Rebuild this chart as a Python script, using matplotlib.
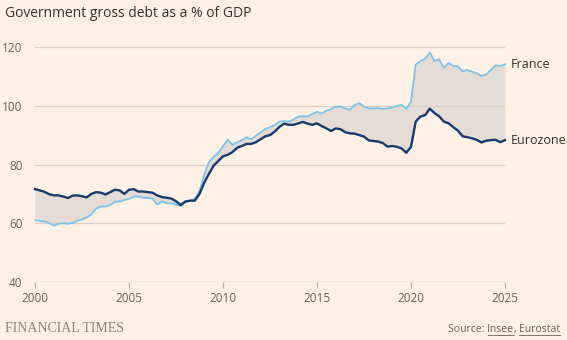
import matplotlib
matplotlib.use('Agg')
import matplotlib.pyplot as plt
from matplotlib.lines import Line2D
import numpy as np

# quarterly government gross debt, % of GDP, 2000Q1 - 2025Q1
start_year = 2000
france = [61.0, 60.8, 60.6, 60.1, 59.2, 59.8, 60.0, 59.8,
          60.1, 60.9, 61.2, 62.0, 63.0, 65.0, 65.7, 65.7,
          66.2, 67.3, 67.4, 67.9, 68.3, 69.0, 69.1, 68.6,
          68.6, 68.4, 66.4, 67.4, 66.8, 66.8, 66.3, 65.9,
          67.3, 67.7, 68.2, 71.0, 76.5, 80.8, 82.5, 84.0,
          86.2, 88.4, 86.7, 87.5, 88.3, 89.3, 88.6, 89.8,
          90.9, 92.1, 92.7, 93.4, 94.6, 94.8, 94.6, 95.3,
          96.3, 96.5, 96.3, 97.2, 97.9, 97.4, 98.3, 98.8,
          99.7, 99.7, 99.1, 98.6, 100.3, 100.9, 99.7, 99.1,
          99.1, 99.2, 98.9, 99.1, 99.4, 99.9, 100.3, 98.9,
          101.4, 114.0, 115.2, 116.0, 118.1, 115.2, 115.8, 112.9,
          114.6, 113.5, 113.4, 111.7, 112.2, 111.6, 111.1, 110.1,
          110.7, 112.2, 113.8, 113.5, 114.1]
eurozone = [71.6, 71.2, 70.7, 69.9, 69.5, 69.5, 69.1, 68.6,
            69.4, 69.5, 69.2, 68.8, 70.0, 70.6, 70.4, 69.8,
            70.6, 71.4, 71.2, 70.0, 71.4, 71.6, 70.8, 70.8,
            70.6, 70.4, 69.5, 68.9, 68.7, 68.4, 67.5, 66.2,
            67.4, 67.7, 67.7, 70.0, 73.8, 76.8, 79.6, 81.2,
            82.8, 83.3, 84.2, 85.7, 86.3, 87.0, 87.0, 87.6,
            88.6, 89.6, 90.0, 91.2, 92.8, 93.9, 93.5, 93.5,
            94.0, 94.5, 93.9, 93.5, 94.0, 93.1, 92.3, 91.4,
            92.3, 92.0, 91.0, 90.6, 90.5, 90.0, 89.5, 88.2,
            88.0, 87.8, 87.3, 86.1, 86.3, 86.0, 85.5, 84.0,
            86.0, 94.6, 96.3, 96.8, 99.0, 97.5, 96.4, 94.6,
            94.0, 92.7, 91.5, 89.6, 89.3, 88.9, 88.4, 87.5,
            88.1, 88.3, 88.4, 87.6, 88.3]
yticks = [40, 60, 80, 100, 120]
xticks = [2000, 2005, 2010, 2015, 2020, 2025]

t = start_year + np.arange(len(france)) / 4

bg = '#fff1e5'
text_col = '#33302e'
muted = '#66605c'

plt.rcParams['font.family'] = ['Open Sans', 'DejaVu Sans']

fig = plt.figure(figsize=(5.67, 3.40), dpi=100, facecolor=bg)
ax = fig.add_axes([35 / 567, 1 - 282 / 340, 470 / 567, 235 / 340])
ax.set_facecolor(bg)

ax.fill_between(t, eurozone, france, color='#e5dcd5', lw=0, zorder=2)
ax.plot(t, france, color='#7ac3ea', lw=1.3, zorder=3, clip_on=False,
        solid_joinstyle='round')
ax.plot(t, eurozone, color='#143a70', lw=1.7, zorder=4, clip_on=False,
        solid_joinstyle='round')

ax.set_xlim(2000, 2025)
ax.set_ylim(40, 120)

# gridlines sit over the shaded gap, under the lines
for v in yticks[1:]:
    ax.axhline(v, color='#dccfc4', lw=0.9, zorder=2.5)
ax.axhline(40, color='#b8aea6', lw=0.9, zorder=2.5)

for s in ax.spines.values():
    s.set_visible(False)

ax.set_yticks(yticks)
ax.set_xticks(xticks)
ax.tick_params(axis='y', length=0, pad=9, labelsize=8.5, labelcolor=muted)
ax.tick_params(axis='x', length=4, width=0.9, color='#b8aea6', pad=3,
               labelsize=8.5, labelcolor=muted)

# series labels at the line ends
ax.text(t[-1] + 0.3, france[-1], 'France', fontsize=9, color=text_col,
        va='center', ha='left')
ax.text(t[-1] + 0.3, eurozone[-1], 'Eurozone', fontsize=9, color=text_col,
        va='center', ha='left')

fig.text(5 / 567, 1 - 17 / 340, 'Government gross debt as a % of GDP',
         fontsize=10, color=text_col, va='baseline', ha='left')

fig.text(5 / 567, 1 - 332 / 340, 'FINANCIAL TIMES', fontsize=10,
         family='Liberation Serif', color='#8a837d', va='baseline', ha='left')

# source line with underlined links, built right to left
fig.canvas.draw()
renderer = fig.canvas.get_renderer()
parts = [('Eurostat', True), (', ', False), ('Insee', True), ('Source: ', False)]
x_right = 560 / 567
y_base = 1 - 332 / 340
for word, underline in parts:
    txt = fig.text(x_right, y_base, word, fontsize=7.5, color=muted,
                   ha='right', va='baseline')
    bb = txt.get_window_extent(renderer).transformed(fig.transFigure.inverted())
    if underline:
        fig.add_artist(Line2D([bb.x0, bb.x1], [y_base - 2.5 / 340] * 2,
                              transform=fig.transFigure, color=muted, lw=0.6))
    x_right = bb.x0

fig.savefig('out.png', dpi=100, facecolor=bg)
